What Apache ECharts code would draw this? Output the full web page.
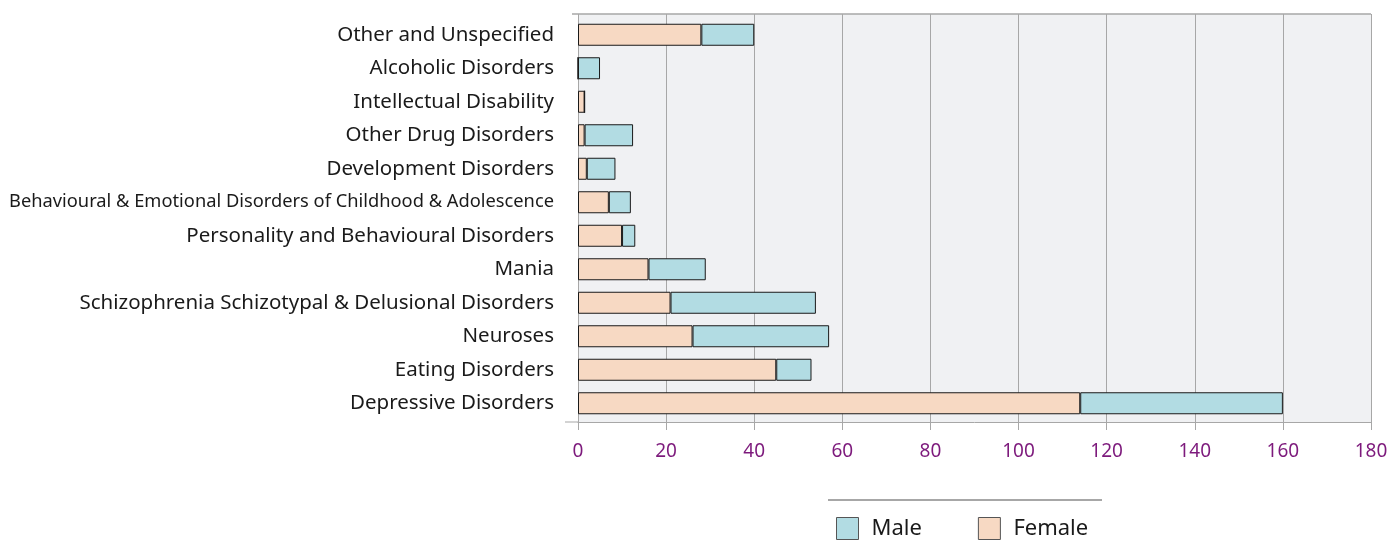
<!DOCTYPE html>
<html>
<head>
    <meta charset="utf-8">
    <script src="https://cdn.jsdelivr.net/npm/echarts@6/dist/echarts.min.js"></script>
    <style type="text/css">
        html, body { margin: 0; padding: 0; background: #fff; }
        #main { width: 1387px; height: 552px; }
    </style>
</head>
<body>
    <div id="main"></div>
    <script>
        // categories top to bottom
        const categories = [
            'Other and Unspecified',
            'Alcoholic Disorders',
            'Intellectual Disability',
            'Other Drug Disorders',
            'Development Disorders',
            'Behavioural & Emotional Disorders of Childhood & Adolescence',
            'Personality and Behavioural Disorders',
            'Mania',
            'Schizophrenia Schizotypal & Delusional Disorders',
            'Neuroses',
            'Eating Disorders',
            'Depressive Disorders'
        ];
        const female = [28, 0, 1.5, 1.5, 2, 7, 10, 16, 21, 26, 45, 114];
        const male = [12, 5, 0, 11, 6.5, 5, 3, 13, 33, 31, 8, 46];
        const xMin = 0, xMax = 180, xStep = 20;

        const chart = echarts.init(document.getElementById('main'));
        const left = 578, right = 16;
        const grey = '#a7a7a7';

        chart.setOption({
            animation: false,
            textStyle: { fontFamily: 'Noto Sans' },
            grid: [
                { left: left, right: right, top: 14, height: 408, show: true, backgroundColor: '#f0f1f3', borderWidth: 0, containLabel: false, outerBoundsMode: 'none' },
                { left: left, right: right, top: 18, height: 402, containLabel: false, outerBoundsMode: 'none' }
            ],
            xAxis: [{
                gridIndex: 0, type: 'value', min: xMin, max: xMax, interval: xStep,
                splitLine: { show: true, lineStyle: { color: grey, width: 1 } },
                axisLine: { show: true, lineStyle: { color: grey, width: 1 } },
                axisTick: { show: true, length: 8, lineStyle: { color: grey } },
                axisLabel: { color: '#7d1a7c', fontSize: 19, margin: 20, fontFamily: 'Noto Sans' }
            }, {
                gridIndex: 1, type: 'value', min: xMin, max: xMax, show: false
            }],
            yAxis: [{
                gridIndex: 0, type: 'value', show: false
            }, {
                gridIndex: 1, type: 'category', data: categories, inverse: true,
                axisLine: { show: false }, axisTick: { show: false },
                axisLabel: {
                    color: '#1a1a1a', fontSize: 20.5, margin: 24, fontFamily: 'Noto Sans',
                    formatter: v => v.length > 50 ? '{c|' + v + '}' : v,
                    rich: { c: { fontSize: 18.3, fontFamily: 'Noto Sans', color: '#1a1a1a' } }
                }
            }],
            legend: {
                data: ['Male', 'Female'],
                left: 831, top: 512,
                itemWidth: 22, itemHeight: 22, itemGap: 56,
                icon: 'rect',
                textStyle: { fontSize: 22, color: '#1a1a1a', padding: [0, 0, 0, 8], fontFamily: 'Noto Sans' },
                itemStyle: { borderColor: '#555', borderWidth: 1 }
            },
            graphic: [
                { type: 'line', shape: { x1: 572, y1: 14, x2: 1371, y2: 14 }, style: { stroke: grey, lineWidth: 1.5 } },
                { type: 'line', shape: { x1: 565, y1: 422, x2: 578, y2: 422 }, style: { stroke: grey, lineWidth: 1 } },
                { type: 'line', shape: { x1: 828, y1: 500, x2: 1102, y2: 500 }, style: { stroke: grey, lineWidth: 2 } }
            ],
            series: [{
                name: 'Female', type: 'bar', stack: 'total', data: female,
                xAxisIndex: 1, yAxisIndex: 1, barWidth: 22,
                itemStyle: { color: '#f7d9c3', borderColor: '#1a1a1a', borderWidth: 1 }
            }, {
                name: 'Male', type: 'bar', stack: 'total', data: male,
                xAxisIndex: 1, yAxisIndex: 1, barWidth: 22,
                itemStyle: { color: '#b2dce3', borderColor: '#1a1a1a', borderWidth: 1 }
            }]
        });
    </script>
</body>
</html>
